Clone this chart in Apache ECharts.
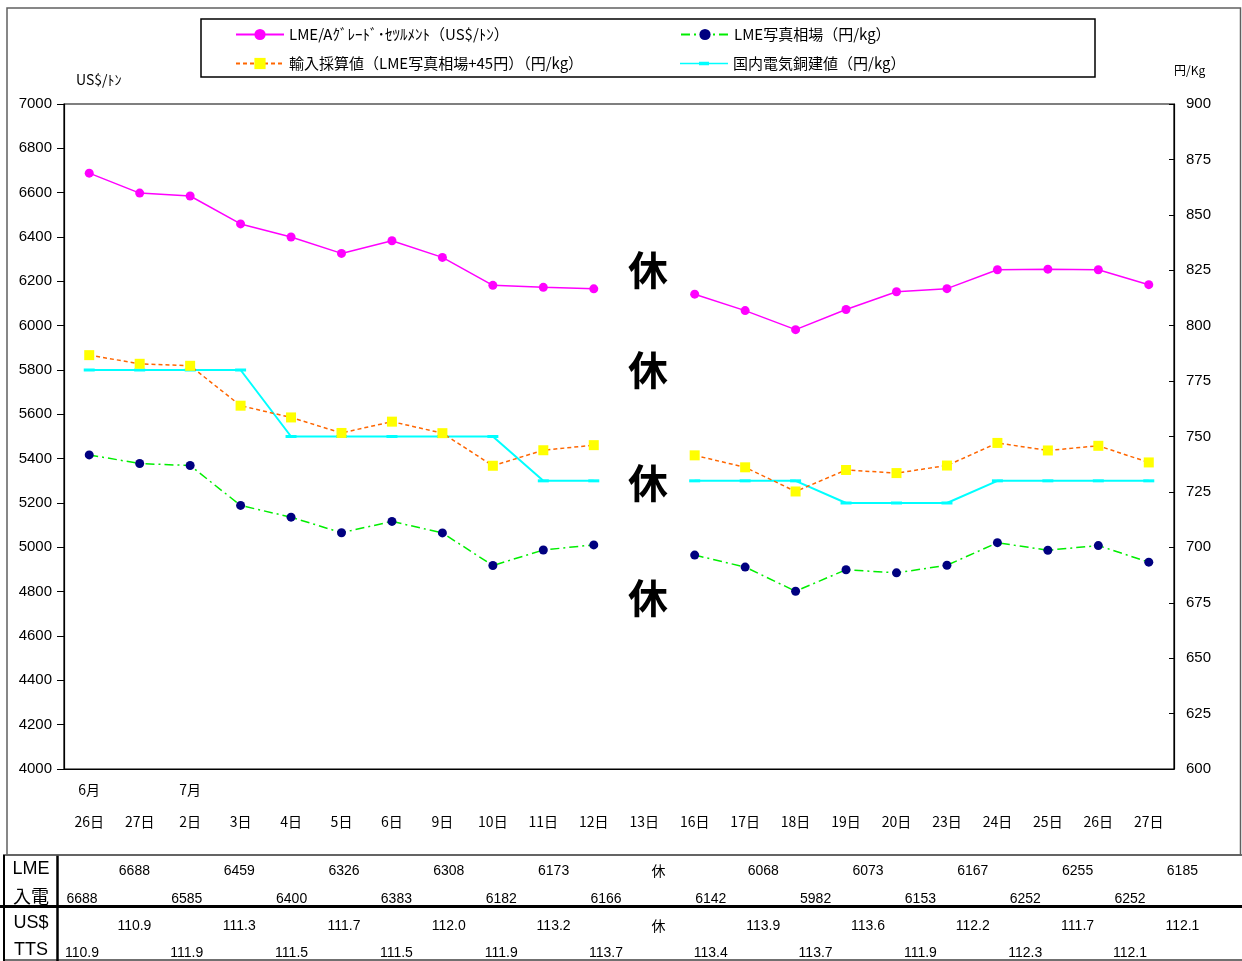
<!DOCTYPE html>
<html><head><meta charset="utf-8">
<script src="https://cdn.jsdelivr.net/npm/echarts@6/dist/echarts.min.js"></script>
<style>html,body{margin:0;padding:0;background:#fff}#c{width:1242px;height:961px}</style>
</head><body><div id="c"></div>
<script>
// ---- data ----
const days = ['26日','27日','2日','3日','4日','5日','6日','9日','10日','11日','12日','13日','16日','17日','18日','19日','20日','23日','24日','25日','26日','27日'];
const months = ['6月','','7月','','','','','','','','','','','','','','','','','','',''];
const seriesNames = ['LME/Aｸﾞﾚｰﾄﾞ･ｾﾂﾙﾒﾝﾄ（US$/ﾄﾝ）','LME写真相場（円/kg）','輸入採算値（LME写真相場+45円）（円/kg）','国内電気銅建値（円/kg）'];
const lmeSettle = [6688, 6598, 6585, 6459, 6400, 6326, 6383, 6308, 6182, 6173, 6166, null, 6142, 6068, 5982, 6073, 6153, 6167, 6252, 6255, 6252, 6185];
const lmeYen = [741.7, 737.8, 736.9, 718.9, 713.6, 706.6, 711.7, 706.5, 691.8, 698.8, 701.1, null, 696.5, 691.1, 680.2, 689.9, 688.5, 691.9, 702.1, 698.7, 700.8, 693.3];
const importCost = [786.7, 782.8, 781.9, 763.9, 758.6, 751.6, 756.7, 751.5, 736.8, 743.8, 746.1, null, 741.5, 736.1, 725.2, 734.9, 733.5, 736.9, 747.1, 743.7, 745.8, 738.3];
const domesticPrice = [780, 780, 780, 780, 750, 750, 750, 750, 750, 730, 730, null, 730, 730, 730, 720, 720, 720, 730, 730, 730, 730];
const lmeTable = ['6688','6688','6585','6459','6400','6326','6383','6308','6182','6173','6166','休','6142','6068','5982','6073','6153','6167','6252','6255','6252','6185'];
const ttsTable = ['110.9','110.9','111.9','111.3','111.5','111.7','111.5','112.0','111.9','113.2','113.7','休','113.4','113.9','113.7','113.6','111.9','112.2','112.3','111.7','112.1','112.1'];
const tableRowLabels = ['LME','入電','US$','TTS'];
const holidayMark = '休';
const leftTicks = {min: 4000, max: 7000, interval: 200};
const rightTicks = {min: 600, max: 900, interval: 25};
const leftUnit = 'US$/ﾄﾝ';
const rightUnit = '円/Kg';

// ---- chart ----
const JP = '"Noto Sans CJK JP", "Liberation Sans", sans-serif';
const NUM = '"Liberation Sans", "Noto Sans CJK JP", sans-serif';
const chart = echarts.init(document.getElementById('c'), null, {renderer: 'canvas'});

const g = [];
// outer frame
g.push({type: 'rect', shape: {x: 7, y: 8, width: 1233.5, height: 847}, style: {fill: 'none', stroke: '#606060', lineWidth: 1.5}, z: 1});
// legend box
g.push({type: 'rect', shape: {x: 201, y: 19, width: 894, height: 58}, style: {fill: 'none', stroke: '#000', lineWidth: 1.5}, z: 1});
// holiday marks on chart
[270, 370, 483, 598].forEach(y => {
  g.push({type: 'text', style: {text: holidayMark, x: 648, y: y, fill: '#000', fontSize: 40, fontWeight: 'bold', fontFamily: JP, align: 'center', verticalAlign: 'middle'}, z: 10});
});
// table lines
g.push({type: 'line', shape: {x1: 3, y1: 855, x2: 1242, y2: 855}, style: {stroke: '#404040', lineWidth: 1.5}});
g.push({type: 'line', shape: {x1: 0, y1: 906.5, x2: 1242, y2: 906.5}, style: {stroke: '#000', lineWidth: 3}});
g.push({type: 'line', shape: {x1: 3, y1: 960, x2: 1242, y2: 960}, style: {stroke: '#404040', lineWidth: 1.5}});
g.push({type: 'line', shape: {x1: 4, y1: 855, x2: 4, y2: 961}, style: {stroke: '#000', lineWidth: 2}});
g.push({type: 'line', shape: {x1: 57.5, y1: 855, x2: 57.5, y2: 961}, style: {stroke: '#000', lineWidth: 2.5}});
// row labels
[869, 896, 923, 950].forEach((y, k) => {
  g.push({type: 'text', style: {text: tableRowLabels[k], x: 31, y: y, fill: '#000', fontSize: 18, fontFamily: k === 1 ? JP : NUM, align: 'center', verticalAlign: 'middle'}});
});
// table values
function tableRow(arr, yTop, yBot) {
  arr.forEach((v, i) => {
    const cx = 82 + 52.4 * i;
    const y = (i % 2 === 1) ? yTop : yBot;
    g.push({type: 'text', style: {text: v, x: cx, y: y, fill: '#000', fontSize: 14, fontFamily: v === holidayMark ? JP : NUM, align: 'center', verticalAlign: 'middle'}});
  });
}
tableRow(lmeTable, 871, 899);
tableRow(ttsTable, 926, 953);

function legendAt(name, left, top, icon) {
  const item = icon ? {name: name, icon: icon} : name;
  return {data: [item], left: left, top: top, padding: 0, itemWidth: 48, itemHeight: 14, symbolKeepAspect: true,
          textStyle: {fontSize: 15, fontFamily: JP, color: '#000'}, selectedMode: false};
}
const cyanIcon = 'path://M0,1 L19,1 L19,0 L29,0 L29,1 L48,1 L48,2.5 L29,2.5 L29,3.5 L19,3.5 L19,2.5 L0,2.5 Z';

const option = {
  backgroundColor: '#fff',
  animation: false,
  legend: [
    legendAt(seriesNames[0], 235, 27),
    legendAt(seriesNames[1], 680, 27),
    legendAt(seriesNames[2], 235, 56),
    legendAt(seriesNames[3], 680, 56, cyanIcon)
  ],
  grid: {left: 64, right: 68, top: 104, bottom: 192, show: true, borderColor: '#000', borderWidth: 1.2, containLabel: false},
  xAxis: [
    {type: 'category', data: days, boundaryGap: true, position: 'bottom',
     axisLine: {show: true, lineStyle: {color: '#000', width: 1.2}}, axisTick: {show: false},
     axisLabel: {interval: 0, margin: 46, color: '#000', fontSize: 14, fontFamily: JP}, splitLine: {show: false}},
    {type: 'category', data: months, boundaryGap: true, position: 'bottom',
     axisLine: {show: false}, axisTick: {show: false},
     axisLabel: {interval: 0, margin: 14, color: '#000', fontSize: 14, fontFamily: JP}, splitLine: {show: false}}
  ],
  yAxis: [
    {type: 'value', position: 'left', min: leftTicks.min, max: leftTicks.max, interval: leftTicks.interval,
     name: leftUnit, nameLocation: 'end', nameGap: 17,
     nameTextStyle: {color: '#000', fontSize: 14, fontFamily: JP, align: 'left', padding: [0, 0, 0, 12]},
     axisLine: {show: true, lineStyle: {color: '#000', width: 1.2}},
     axisTick: {show: true, inside: false, length: 7, lineStyle: {color: '#000'}},
     axisLabel: {color: '#000', fontSize: 15, fontFamily: NUM, margin: 12, formatter: v => String(v)},
     splitLine: {show: false}},
    {type: 'value', position: 'right', min: rightTicks.min, max: rightTicks.max, interval: rightTicks.interval,
     name: rightUnit, nameLocation: 'end', nameGap: 28,
     nameTextStyle: {color: '#000', fontSize: 12, fontFamily: JP, align: 'left', padding: [0, 0, 0, 0]},
     axisLine: {show: true, lineStyle: {color: '#000', width: 1.2}},
     axisTick: {show: true, inside: true, length: 5, lineStyle: {color: '#000'}},
     axisLabel: {color: '#000', fontSize: 15, fontFamily: NUM, margin: 12, formatter: v => String(v)},
     splitLine: {show: false}}
  ],
  series: [
    {name: seriesNames[0], type: 'line', xAxisIndex: 0, yAxisIndex: 0, data: lmeSettle, connectNulls: false,
     symbol: 'circle', symbolSize: 9, lineStyle: {color: '#FF00FF', width: 1.5},
     itemStyle: {color: '#FF00FF'}, z: 5},
    {name: seriesNames[1], type: 'line', xAxisIndex: 0, yAxisIndex: 1, data: lmeYen, connectNulls: false,
     symbol: 'circle', symbolSize: 9, lineStyle: {color: '#00EE00', width: 1.5, type: [9, 4, 2, 4]},
     itemStyle: {color: '#000080'}, z: 4},
    {name: seriesNames[2], type: 'line', xAxisIndex: 0, yAxisIndex: 1, data: importCost, connectNulls: false,
     symbol: 'rect', symbolSize: 10, lineStyle: {color: '#FF6600', width: 1.5, type: [4, 3]},
     itemStyle: {color: '#FFFF00'}, z: 4},
    {name: seriesNames[3], type: 'line', xAxisIndex: 0, yAxisIndex: 1, data: domesticPrice, connectNulls: false,
     symbol: 'rect', symbolSize: [11, 3], lineStyle: {color: '#00FFFF', width: 2},
     itemStyle: {color: '#00FFFF'}, z: 3}
  ],
  graphic: g
};
chart.setOption(option);
</script>
</body></html>
